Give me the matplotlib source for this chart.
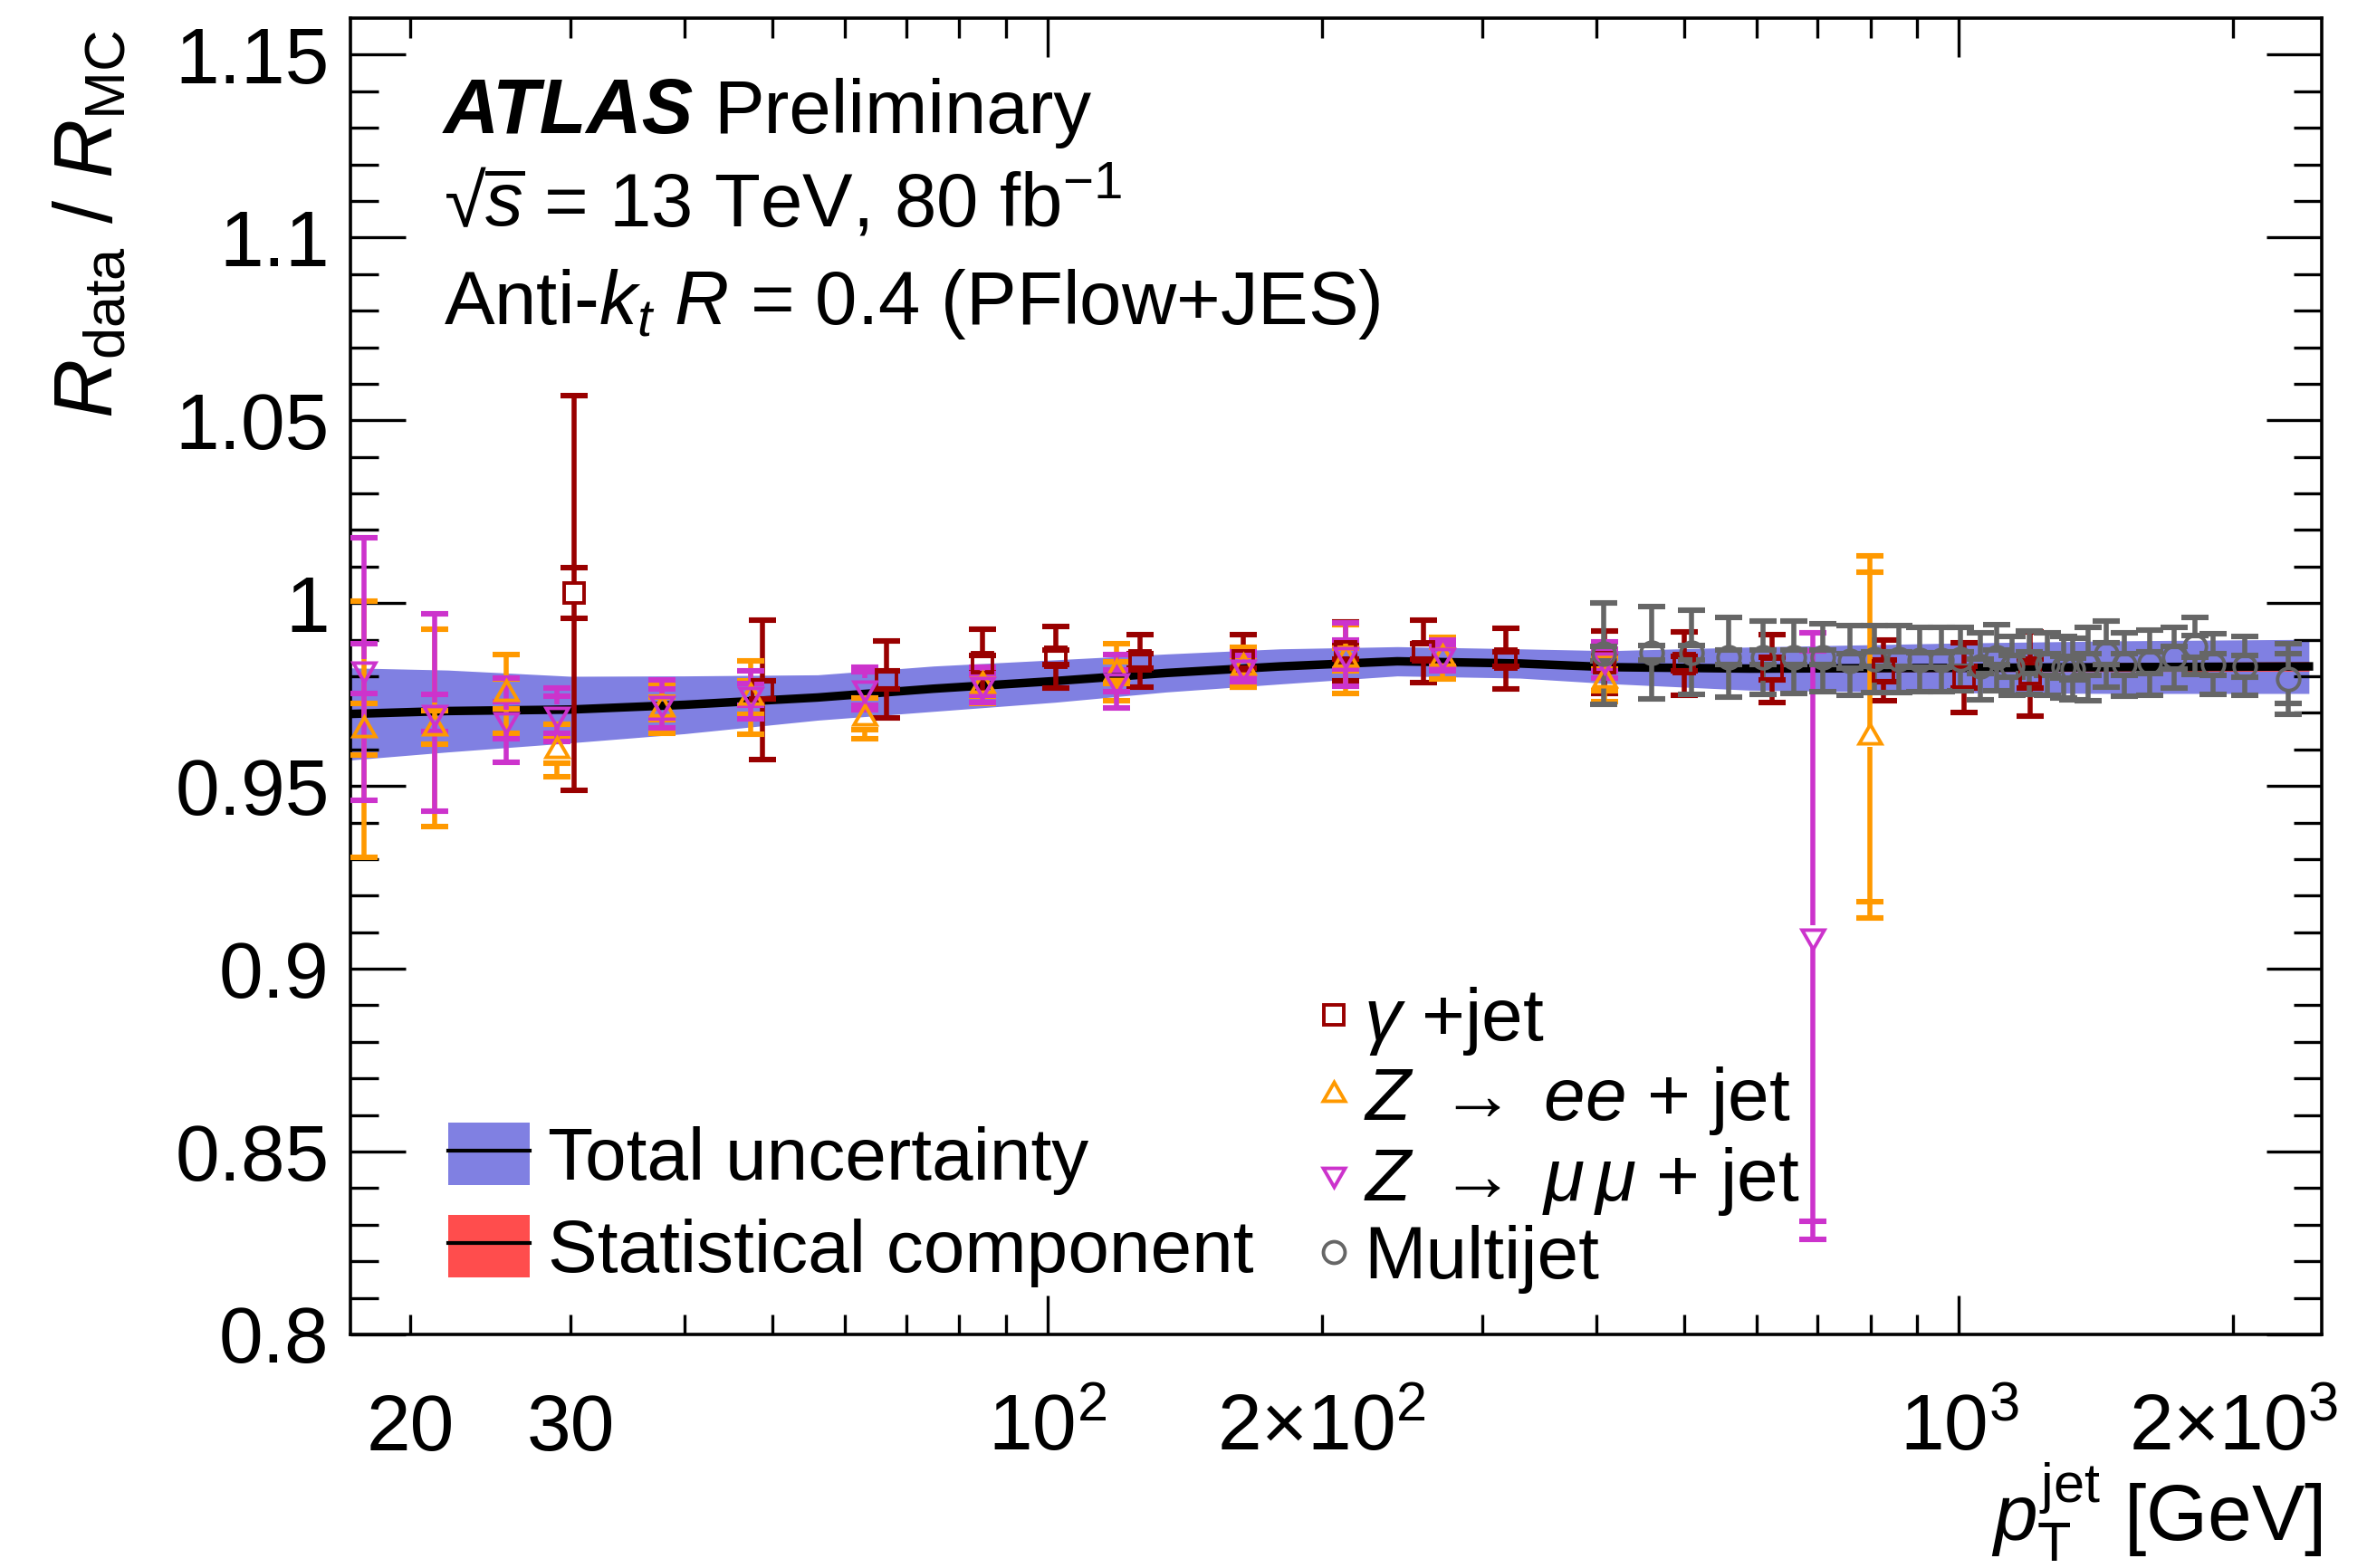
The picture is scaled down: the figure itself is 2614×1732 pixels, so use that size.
import numpy as np
import matplotlib
matplotlib.use("Agg")
import matplotlib.pyplot as plt
from matplotlib.ticker import FixedLocator, FixedFormatter, FuncFormatter
from matplotlib.patches import Patch
from matplotlib.lines import Line2D

plt.rcParams['font.family'] = ['Liberation Sans', 'DejaVu Sans']
plt.rcParams['mathtext.fontset'] = 'custom'
plt.rcParams['mathtext.rm'] = 'Liberation Sans'
plt.rcParams['mathtext.it'] = 'Liberation Sans:italic'
plt.rcParams['mathtext.bf'] = 'Liberation Sans:bold'

# combined calibration curve (central value, total and statistical half-widths)
band_pt = [17.2, 22, 30, 40, 56, 75, 102, 135, 180, 242, 330, 413, 590, 1000, 1500, 2420]
band_val = [0.9697, 0.9705, 0.9709, 0.9722, 0.9742, 0.9766, 0.9787, 0.9809, 0.9827,
            0.9841, 0.9835, 0.9825, 0.9821, 0.9823, 0.9825, 0.9827]
band_tot = [0.0126, 0.0112, 0.0091, 0.0079, 0.0062, 0.0062, 0.0058, 0.0052, 0.0048,
            0.0040, 0.0040, 0.0045, 0.0059, 0.0068, 0.0072, 0.0074]
band_stat = [0.0008, 0.0008, 0.0008, 0.0008, 0.0007, 0.0007, 0.0007, 0.0007, 0.0007,
             0.0007, 0.0007, 0.0008, 0.0009, 0.0010, 0.0012, 0.0013]

# gamma+jet
gam_pt = [30.3, 48.7, 66.7, 84.9, 102.2, 126.4, 164.1, 212.3, 258.7, 318.7, 408.3,
          500, 623.5, 827, 1014, 1196]
gam_val = [1.0028, 0.9763, 0.9791, 0.9838, 0.9852, 0.9843, 0.9843, 0.9868, 0.9868,
           0.9848, 0.9838, 0.9834, 0.9821, 0.9815, 0.9797, 0.9807]
gam_stat = [0.007, 0.0025, 0.0025, 0.002, 0.002, 0.002, 0.002, 0.002, 0.002, 0.002,
            0.002, 0.002, 0.003, 0.003, 0.003, 0.004]
gam_tot = [0.054, 0.019, 0.0105, 0.0092, 0.0085, 0.0072, 0.0072, 0.008, 0.0085, 0.0083,
           0.0086, 0.0087, 0.0094, 0.0083, 0.0095, 0.0115]

# Z->ee+jet
zee_pt = [17.8, 21.3, 25.5, 29.0, 37.8, 47.3, 63.0, 84.9, 119.1, 164.1, 212.3, 271.5, 408.3, 799]
zee_val = [0.9655, 0.966, 0.9752, 0.9598, 0.9712, 0.9742, 0.9685, 0.9775, 0.981, 0.9825,
           0.9846, 0.985, 0.979, 0.9634]
zee_stat = [0.007, 0.0046, 0.004, 0.0035, 0.003, 0.0045, 0.003, 0.003, 0.003, 0.003,
            0.003, 0.003, 0.003, 0.045]
zee_tot = [0.035, 0.027, 0.0108, 0.0072, 0.0068, 0.010, 0.0055, 0.005, 0.0078, 0.0055,
           0.0094, 0.0057, 0.006, 0.0495]

# Z->mumu+jet
zmm_pt = [17.8, 21.3, 25.5, 29.0, 37.8, 47.3, 63.0, 84.9, 119.1, 164.1, 212.3, 271.5, 408.3, 692]
zmm_val = [0.982, 0.970, 0.968, 0.9695, 0.9725, 0.975, 0.9767, 0.9777, 0.9787, 0.9826,
           0.986, 0.9857, 0.9845, 0.909]
zmm_stat = [0.0068, 0.005, 0.005, 0.005, 0.004, 0.003, 0.0045, 0.003, 0.003, 0.003,
            0.004, 0.003, 0.003, 0.078]
zmm_tot = [0.036, 0.027, 0.0115, 0.0073, 0.0065, 0.0066, 0.0058, 0.0048, 0.0073, 0.004,
           0.0087, 0.0042, 0.005, 0.083]

# multijet balance
mj_pt = [408, 460, 509, 559, 610, 659, 709, 759, 808, 859, 906, 956, 1004, 1056, 1101,
         1144, 1193, 1249, 1302, 1332, 1385, 1450, 1517, 1617, 1721, 1815, 1900, 2059, 2296]
mj_val = [0.9862, 0.9864, 0.9865, 0.9851, 0.9851, 0.9851, 0.9851, 0.9843, 0.9847, 0.9847,
          0.9845, 0.9845, 0.9847, 0.9828, 0.9851, 0.9828, 0.9837, 0.9833, 0.9824, 0.982,
          0.9833, 0.9861, 0.9833, 0.9837, 0.9851, 0.9882, 0.9833, 0.9828, 0.9793]
mj_stat = [0.002] * 15 + [0.003] * 13 + [0.0068]
mj_tot = [0.0138, 0.0126, 0.0115, 0.0109, 0.0101, 0.0099, 0.0093, 0.0095, 0.0092, 0.0092,
          0.0088, 0.0088, 0.0086, 0.0092, 0.009, 0.008, 0.0086, 0.0085, 0.0084, 0.0085,
          0.010, 0.009, 0.0087, 0.009, 0.0082, 0.0078, 0.0083, 0.008, 0.0096]

xminor_ticks = [20, 30, 40, 50, 60, 70, 80, 90, 200, 300, 400, 500, 600, 700, 800, 900, 2000]
xminor_labels = {20: '20', 30: '30', 200: r'$2{\times}10^{2}$', 2000: r'$2{\times}10^{3}$'}
xmajor_ticks = [100, 1000]
xmajor_labels = [r'$10^{2}$', r'$10^{3}$']
yticks = [0.8, 0.85, 0.9, 0.95, 1.0, 1.05, 1.1, 1.15]
ytick_labels = ['0.8', '0.85', '0.9', '0.95', '1', '1.05', '1.1', '1.15']

c_blue = '#8080e2'
c_stat = '#ff4d4d'
c_gam = '#990000'
c_zee = '#ff9900'
c_zmm = '#cc33cc'
c_mj = '#666666'
FS = 30

fig = plt.figure(figsize=(13.07, 8.66), dpi=200)
ax = fig.add_axes([0.1480, 0.1490, 0.8329, 0.8394])

bx = np.array(band_pt)
bv = np.array(band_val)
ax.fill_between(bx, bv - np.array(band_tot), bv + np.array(band_tot), color=c_blue, lw=0, zorder=1)
ax.fill_between(bx, bv - np.array(band_stat), bv + np.array(band_stat), color=c_stat, lw=0, zorder=2)
ax.plot(bx, bv, color='black', lw=3.4, zorder=3)

gap = 0.0028  # error bar gap around the open marker


def draw_points(x, y, stat, tot, color, marker, ms):
    x = np.array(x)
    y = np.array(y)
    stat = np.array(stat)
    tot = np.array(tot)
    g = np.minimum(gap, tot)
    ax.vlines(x, y + g, y + tot, color=color, lw=2.0, zorder=4)
    ax.vlines(x, y - tot, y - g, color=color, lw=2.0, zorder=4)
    for err in (tot, stat):
        ax.errorbar(x, y, yerr=err, fmt='none', ecolor=color, elinewidth=0,
                    capsize=5.4, capthick=2.2, zorder=4)
    ax.plot(x, y, ls='none', marker=marker, ms=ms, mfc='none', mec=color, mew=1.4, zorder=5)


draw_points(gam_pt, gam_val, gam_stat, gam_tot, c_gam, 's', 8.2)
draw_points(zee_pt, zee_val, zee_stat, zee_tot, c_zee, (3, 0, 0), 10.2)
draw_points(zmm_pt, zmm_val, zmm_stat, zmm_tot, c_zmm, (3, 0, 180), 10.2)
draw_points(mj_pt, mj_val, mj_stat, mj_tot, c_mj, 'o', 8.8)

ax.set_xscale('log')
ax.set_xlim(17.2, 2500)
ax.set_ylim(0.8, 1.16)

ax.xaxis.set_major_locator(FixedLocator(xmajor_ticks))
ax.xaxis.set_major_formatter(FixedFormatter(xmajor_labels))
ax.xaxis.set_minor_locator(FixedLocator(xminor_ticks))
ax.xaxis.set_minor_formatter(FuncFormatter(lambda v, p: xminor_labels.get(int(round(v)), '')))
ax.set_yticks(yticks)
ax.set_yticklabels(ytick_labels)
ax.yaxis.set_minor_locator(FixedLocator(np.arange(0.80, 1.16, 0.01)))

ax.tick_params(axis='both', which='both', direction='in', top=True, right=True,
               width=1.2, labelsize=31.5)
ax.tick_params(axis='x', which='major', length=15.5, pad=46)
ax.tick_params(axis='x', which='minor', length=7.8, pad=46)
ax.tick_params(axis='y', which='major', length=22, pad=8.4)
ax.tick_params(axis='y', which='minor', length=11)
for lbl in ax.get_xticklabels(which='both'):
    lbl.set_verticalalignment('baseline')
for s in ax.spines.values():
    s.set_linewidth(1.3)

ax.set_ylabel(r'$R_{\mathrm{data}}$ / $R_{\mathrm{MC}}$', fontsize=32.5, loc='top')
ax.yaxis.set_label_coords(-0.112, 0.991)
ax.set_xlabel(r'$p_{\mathrm{T}}^{\mathrm{jet}}$ [GeV]', fontsize=31.5, loc='right')
ax.xaxis.set_label_coords(1.0, -0.0955)

ax.text(0.0473, 0.9129, 'ATLAS', transform=ax.transAxes, fontsize=30.5,
        fontweight='bold', fontstyle='italic')
ax.text(0.1844, 0.9129, 'Preliminary', transform=ax.transAxes, fontsize=FS)
ax.text(0.0473, 0.8418, r'√$\overline{s}$ = 13 TeV, 80 fb$^{-1}$', transform=ax.transAxes, fontsize=FS)
ax.text(0.0473, 0.7675, r'Anti-$k_{t}$ $R$ = 0.4 (PFlow+JES)', transform=ax.transAxes, fontsize=FS)

# legends
h_tot = (Patch(facecolor=c_blue, edgecolor='none'), Line2D([], [], color='black', lw=1.5))
h_stat = (Patch(facecolor=c_stat, edgecolor='none'), Line2D([], [], color='black', lw=1.5))
leg1 = ax.legend([h_tot, h_stat], ['Total uncertainty', 'Statistical component'],
                 loc='lower left', bbox_to_anchor=(0.0496, 0.036), frameon=False,
                 fontsize=29.5, borderpad=0, borderaxespad=0, handlelength=1.1,
                 handleheight=0.92, handletextpad=0.25, labelspacing=0.27)
ax.add_artist(leg1)

m_handles = [Line2D([], [], ls='none', marker='s', ms=8, mfc='none', mec=c_gam, mew=1.4),
             Line2D([], [], ls='none', marker=(3, 0, 0), ms=10, mfc='none', mec=c_zee, mew=1.4),
             Line2D([], [], ls='none', marker=(3, 0, 180), ms=10, mfc='none', mec=c_zmm, mew=1.4),
             Line2D([], [], ls='none', marker='o', ms=8.6, mfc='none', mec=c_mj, mew=1.4)]
m_labels = [r'$\gamma$ +jet', r'$Z\;\rightarrow\;ee$ + jet', r'$Z\;\rightarrow\;\mu\,\mu$ + jet',
            'Multijet']
ax.legend(m_handles, m_labels, loc='lower left', bbox_to_anchor=(0.4878, 0.031),
          frameon=False, fontsize=29.5, borderpad=0, borderaxespad=0, handlelength=0.6,
          handletextpad=0.1, labelspacing=0.1)

fig.savefig('out.png', dpi=200)
